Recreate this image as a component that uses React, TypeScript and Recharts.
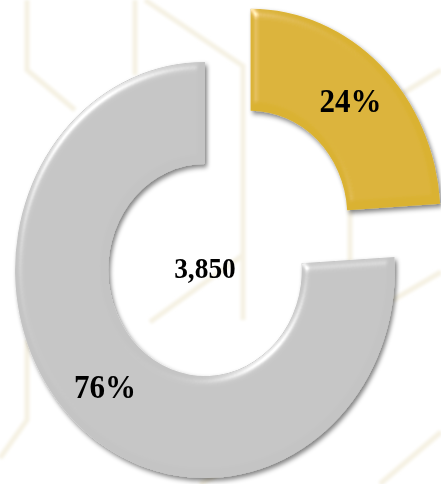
import { PieChart, Pie, Cell } from "recharts";

// values (shares 24% / 76% of 3,850)
const categories = ["Gold", "Gray"];
const values = [924, 2926];
const colors = ["#dab232", "#c4c4c4"];

const total = values.reduce((a, b) => a + b, 0);
const data = categories.map((name, i) => ({ name, value: values[i] }));

const RADIAN = Math.PI / 180;
const SCALE_X = 0.913;
const CX = 224.5;
const CY = 270;
const INNER = 106;
const OUTER = 208;
const EXPLODE = 73;
const FONT = "'Liberation Serif', 'Times New Roman', serif";

// direction of the exploded slice = its mid angle
const goldMid = 90 - (values[0] / total) * 360 / 2;
const goldCx = CX + EXPLODE * Math.cos(goldMid * RADIAN);
const goldCy = CY - EXPLODE * Math.sin(goldMid * RADIAN);

const makeLabel = (shown: number, withTotal: boolean) => (props: any) => {
    const { cx, cy, midAngle, innerRadius, outerRadius, percent, index } = props;
    if (index !== shown) return null;
    const r = (innerRadius + outerRadius) / 2 + 3;
    const x = cx + r * Math.cos(-midAngle * RADIAN);
    const y = cy + r * Math.sin(-midAngle * RADIAN);
    return (
        <g>
            <text x={x} y={y} textAnchor="middle" dominantBaseline="central" fill="#000"
                fontFamily={FONT} fontWeight="bold" fontSize={34}>
                {`${Math.round(percent * 100)}%`}
            </text>
            {withTotal && (
                <text x={cx} y={cy - 2} textAnchor="middle" dominantBaseline="central" fill="#000"
                    fontFamily={FONT} fontWeight="bold" fontSize={30}>
                    {total.toLocaleString("en-US")}
                </text>
            )}
        </g>
    );
};

const bgLines = [
    "M27,0 L27,70 L75,110",
    "M135,0 L135,75",
    "M145,0 L243,66 L243,320",
    "M150,322 L243,255",
    "M350,200 L350,262",
    "M393,300 L441,272",
    "M441,70 L400,95",
    "M27,340 L27,420 L0,458",
    "M380,484 L441,432",
    "M200,484 L240,462",
];

const App = () => {
    return (
        <div style={{ position: "absolute", left: 0, top: 0, width: 441, height: 484, overflow: "hidden", background: "#fff" }}>
            <svg width={441} height={484} style={{ position: "absolute", left: 0, top: 0 }}>
                <defs>
                    <filter id="soft">
                        <feGaussianBlur stdDeviation="1.5" />
                    </filter>
                    <filter id="bevel" x="-15%" y="-15%" width="130%" height="130%">
                        <feGaussianBlur in="SourceAlpha" stdDeviation="4" result="blur" />
                        <feSpecularLighting in="blur" surfaceScale="4" specularConstant="0.8" specularExponent="35" lightingColor="#ffffff" result="spec">
                            <feDistantLight azimuth="225" elevation="40" />
                        </feSpecularLighting>
                        <feComposite in="spec" in2="SourceAlpha" operator="in" result="specIn" />
                        <feComposite in="SourceGraphic" in2="specIn" operator="arithmetic" k1="0" k2="1" k3="0.6" k4="0" result="lit" />
                        <feGaussianBlur in="SourceAlpha" stdDeviation="2.5" result="sh" />
                        <feOffset in="sh" dx="2" dy="3" result="sho" />
                        <feComponentTransfer in="sho" result="shoa">
                            <feFuncA type="linear" slope="0.5" />
                        </feComponentTransfer>
                        <feMerge>
                            <feMergeNode in="shoa" />
                            <feMergeNode in="lit" />
                        </feMerge>
                    </filter>
                </defs>
                <g filter="url(#soft)">
                    {bgLines.map((d, i) => (
                        <path key={i} d={d} fill="none" stroke="#f5f1e3" strokeWidth={5} />
                    ))}
                </g>
            </svg>
            <div style={{ position: "absolute", left: 0, top: 0, transform: `scaleX(${SCALE_X})`, transformOrigin: "0 0" }}>
                <PieChart width={483} height={484} margin={{ top: 0, right: 0, bottom: 0, left: 0 }}>
                    <Pie
                        data={data}
                        dataKey="value"
                        cx={CX}
                        cy={CY}
                        innerRadius={INNER}
                        outerRadius={OUTER}
                        startAngle={90}
                        endAngle={-270}
                        stroke="none"
                        labelLine={false}
                        label={makeLabel(1, true)}
                        isAnimationActive={false}
                    >
                        {data.map((d, i) => (
                            <Cell
                                key={d.name}
                                fill={i === 1 ? colors[1] : "none"}
                                stroke="none"
                                style={i === 1 ? { filter: "url(#bevel)" } : undefined}
                            />
                        ))}
                    </Pie>
                    <Pie
                        data={data}
                        dataKey="value"
                        cx={goldCx}
                        cy={goldCy}
                        innerRadius={INNER}
                        outerRadius={OUTER}
                        startAngle={90}
                        endAngle={-270}
                        stroke="none"
                        labelLine={false}
                        label={makeLabel(0, false)}
                        isAnimationActive={false}
                    >
                        {data.map((d, i) => (
                            <Cell
                                key={d.name}
                                fill={i === 0 ? colors[0] : "none"}
                                stroke="none"
                                style={i === 0 ? { filter: "url(#bevel)" } : undefined}
                            />
                        ))}
                    </Pie>
                </PieChart>
            </div>
        </div>
    );
};

export default App;
